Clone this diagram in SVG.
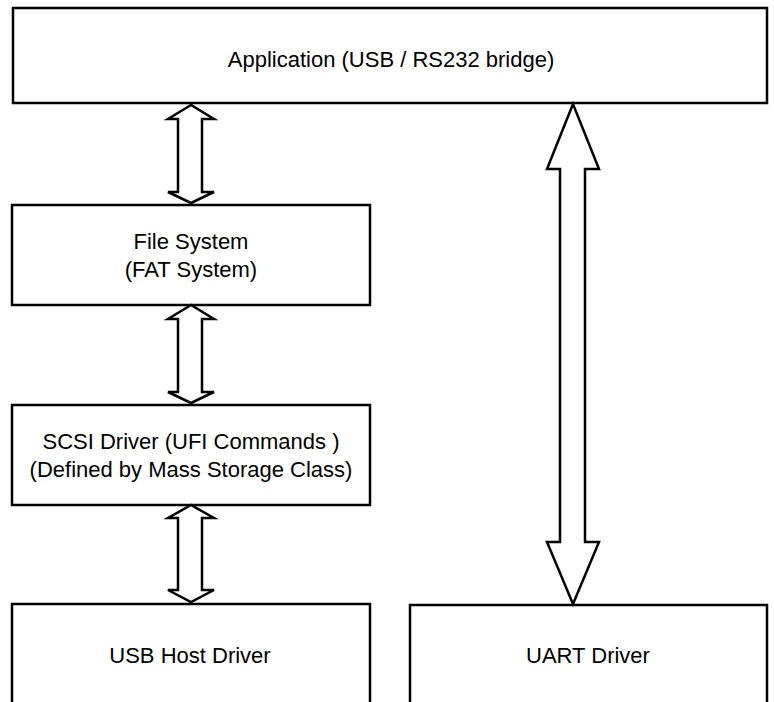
<svg xmlns="http://www.w3.org/2000/svg" width="774" height="702" viewBox="0 0 774 702">
<style>
.box{fill:#fff;stroke:#000;stroke-width:2.5}
.arr{fill:#fff;stroke:#000;stroke-width:2.5;stroke-linejoin:miter}
text{font-family:"Liberation Sans",Arial,sans-serif;font-size:22px;fill:#000;text-anchor:middle}
</style>
<rect width="774" height="702" fill="#fff"/>
<g id="app">
<rect class="box" x="13" y="8" width="754" height="95"/>
<text x="391" y="67">Application (USB / RS232 bridge)</text>
</g>
<g id="fs">
<rect class="box" x="12" y="205" width="358" height="100"/>
<text x="191" y="249">File System</text>
<text x="191" y="277">(FAT System)</text>
</g>
<g id="scsi">
<rect class="box" x="12" y="405" width="358" height="100"/>
<text x="191" y="449">SCSI Driver (UFI Commands )</text>
<text x="191" y="477">(Defined by Mass Storage Class)</text>
</g>
<g id="usbhost">
<rect class="box" x="12" y="604" width="358" height="120"/>
<text x="190" y="663">USB Host Driver</text>
</g>
<g id="uart">
<rect class="box" x="410" y="605" width="357" height="120"/>
<text x="588" y="663">UART Driver</text>
</g>
<g id="connectors">
<polygon class="arr" points="191,105 168,119 178,119 178,192 168,192 191,203 214,192 202,192 202,119 214,119"/>
<polygon class="arr" points="191,305 168,319 178,319 178,392 168,392 191,403 214,392 202,392 202,319 214,319"/>
<polygon class="arr" points="191,505 168,518 178,518 178,590 168,590 191,602 214,590 202,590 202,518 214,518"/>
<polygon class="arr" points="573,104 547,169 560,169 560,542 547,542 573,604 599,542 585,542 585,169 599,169"/>
</g>
</svg>
